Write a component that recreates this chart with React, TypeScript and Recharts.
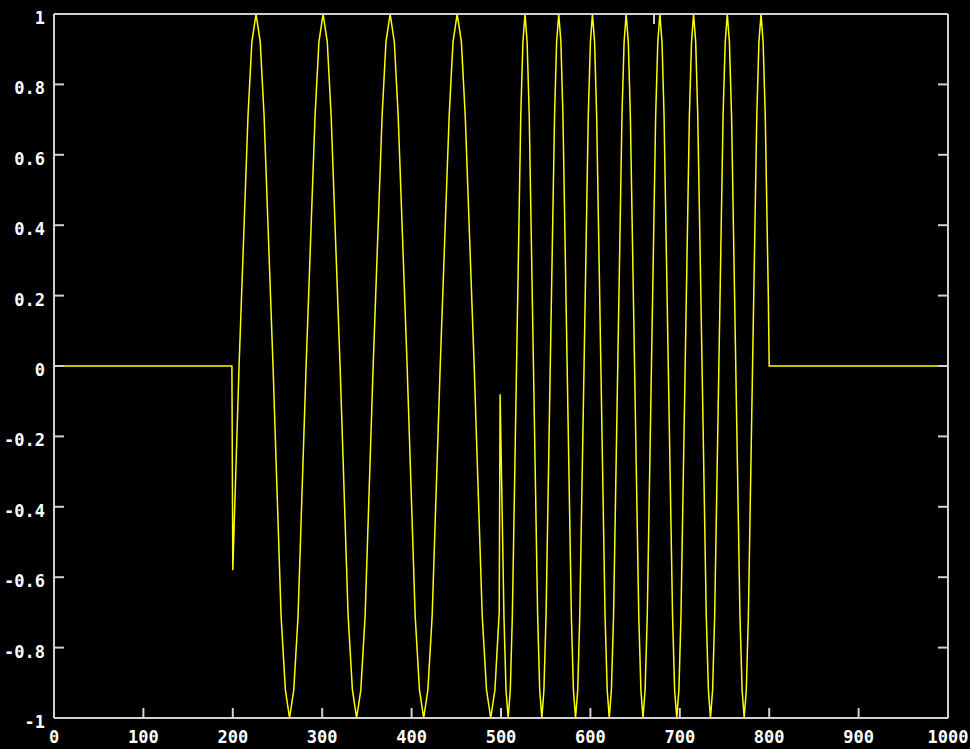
import { LineChart, Line, XAxis, YAxis } from 'recharts';

// sample positions (x) and the signal value at each (y), one row per swing
const xValues = [
  0, 199, 200, 207, 217, 221.3, 226, 230.7, 235, 245,
  254, 258.8, 263.5, 268.2, 273, 282,
  292, 296.3, 301, 305.7, 310, 320,
  329, 333.8, 338.5, 343.2, 348, 357,
  367, 371.3, 376, 380.7, 385, 395,
  404, 408.8, 413.5, 418.2, 423, 432,
  442, 446.3, 451, 455.7, 460, 470,
  479, 483.8, 488.5, 493.2, 498, 499, 503.3, 505.6,
  508, 510.4, 512.7, 517.4, 522.1, 524.5, 526.9, 529.2, 531.6, 536.3, 541, 543.3,
  545.7, 548, 550.4, 555.1, 559.9, 562.2, 564.6, 567, 569.3, 574, 578.7, 581,
  583.4, 585.8, 588.1, 592.9, 597.6, 600, 602.3, 604.7, 607, 611.7, 616.4, 618.8,
  621.1, 623.5, 625.9, 630.6, 635.3, 637.7, 640, 642.4, 644.7, 649.4, 654.1, 656.5,
  658.8, 661.2, 663.6, 668.3, 673, 675.4, 677.7, 680.1, 682.4, 687.1, 691.9, 694.2,
  696.6, 699, 701.3, 706, 710.7, 713.1, 715.4, 717.8, 720.1, 724.9, 729.6, 732,
  734.3, 736.7, 739, 743.7, 748.4, 750.8, 753.1, 755.5, 757.9, 762.6, 767.3, 769.7,
  772, 774.4, 776.7, 781.4, 786.1, 788.5, 790.9, 793.2, 795.6, 799, 800, 1000,
];
const yValues = [
  0, 0, -0.58, 0, 0.71, 0.92, 1, 0.92, 0.71, 0,
  -0.71, -0.92, -1, -0.92, -0.71, 0,
  0.71, 0.92, 1, 0.92, 0.71, 0,
  -0.71, -0.92, -1, -0.92, -0.71, 0,
  0.71, 0.92, 1, 0.92, 0.71, 0,
  -0.71, -0.92, -1, -0.92, -0.71, 0,
  0.71, 0.92, 1, 0.92, 0.71, 0,
  -0.71, -0.92, -1, -0.92, -0.7, -0.08, -0.71, -0.92,
  -1, -0.92, -0.71, 0, 0.71, 0.92, 1, 0.92, 0.71, 0, -0.71, -0.92,
  -1, -0.92, -0.71, 0, 0.71, 0.92, 1, 0.92, 0.71, 0, -0.71, -0.92,
  -1, -0.92, -0.71, 0, 0.71, 0.92, 1, 0.92, 0.71, 0, -0.71, -0.92,
  -1, -0.92, -0.71, 0, 0.71, 0.92, 1, 0.92, 0.71, 0, -0.71, -0.92,
  -1, -0.92, -0.71, 0, 0.71, 0.92, 1, 0.92, 0.71, 0, -0.71, -0.92,
  -1, -0.92, -0.71, 0, 0.71, 0.92, 1, 0.92, 0.71, 0, -0.71, -0.92,
  -1, -0.92, -0.71, 0, 0.71, 0.92, 1, 0.92, 0.71, 0, -0.71, -0.92,
  -1, -0.92, -0.71, 0, 0.71, 0.92, 1, 0.92, 0.71, 0.2, 0, 0,
];
const xTicks = [0, 100, 200, 300, 400, 500, 600, 700, 800, 900, 1000];
const yTicks = [-1, -0.8, -0.6, -0.4, -0.2, 0, 0.2, 0.4, 0.6, 0.8, 1];

const data = xValues.map((x, i) => ({ x, y: yValues[i] }));

const AXIS = '#d0d0d0';
const FONT = '"DejaVu Sans Mono", monospace';
const fmt = (v: number) => String(Math.round(v * 10) / 10);

function BottomTick({ x, y, payload }: any) {
    return <text x={x} y={y + 25} textAnchor="middle" fill="#fff" fontSize={17} fontWeight="bold" fontFamily={FONT}>{payload.value}</text>;
}

function LeftTick({ x, y, payload }: any) {
    return <text x={x - 9} y={y + 10} textAnchor="end" fill="#fff" fontSize={17} fontWeight="bold" fontFamily={FONT}>{fmt(payload.value)}</text>;
}

export default function App() {
    const line = { stroke: AXIS, strokeWidth: 2 };
    return (
        <div style={{ position: 'absolute', left: 0, top: 0, width: 970, height: 749, background: '#000' }}>
            <LineChart width={970} height={749} data={data} margin={{ top: 13, right: 21, bottom: 0, left: 0 }}>
                <XAxis dataKey="x" type="number" domain={[0, 1000]} ticks={xTicks} interval={0} height={31}
                    tickSize={-10} tickMargin={10} axisLine={line} tickLine={line} tick={<BottomTick />} allowDataOverflow />
                <XAxis xAxisId="top" orientation="top" type="number" domain={[0, 1000]} ticks={xTicks} interval={0} height={1}
                    tickSize={-10} axisLine={line} tickLine={line} tickFormatter={() => ''} allowDataOverflow />
                <YAxis type="number" domain={[-1, 1]} ticks={yTicks} interval={0} width={54}
                    tickSize={-10} tickMargin={10} axisLine={line} tickLine={line} tick={<LeftTick />} allowDataOverflow />
                <YAxis yAxisId="right" orientation="right" type="number" domain={[-1, 1]} ticks={yTicks} interval={0} width={1}
                    tickSize={-10} axisLine={line} tickLine={line} tickFormatter={() => ''} allowDataOverflow />
                <Line type="linear" dataKey="y" stroke="#ffff00" strokeWidth={1.5} dot={false} isAnimationActive={false} />
            </LineChart>
        </div>
    );
}
